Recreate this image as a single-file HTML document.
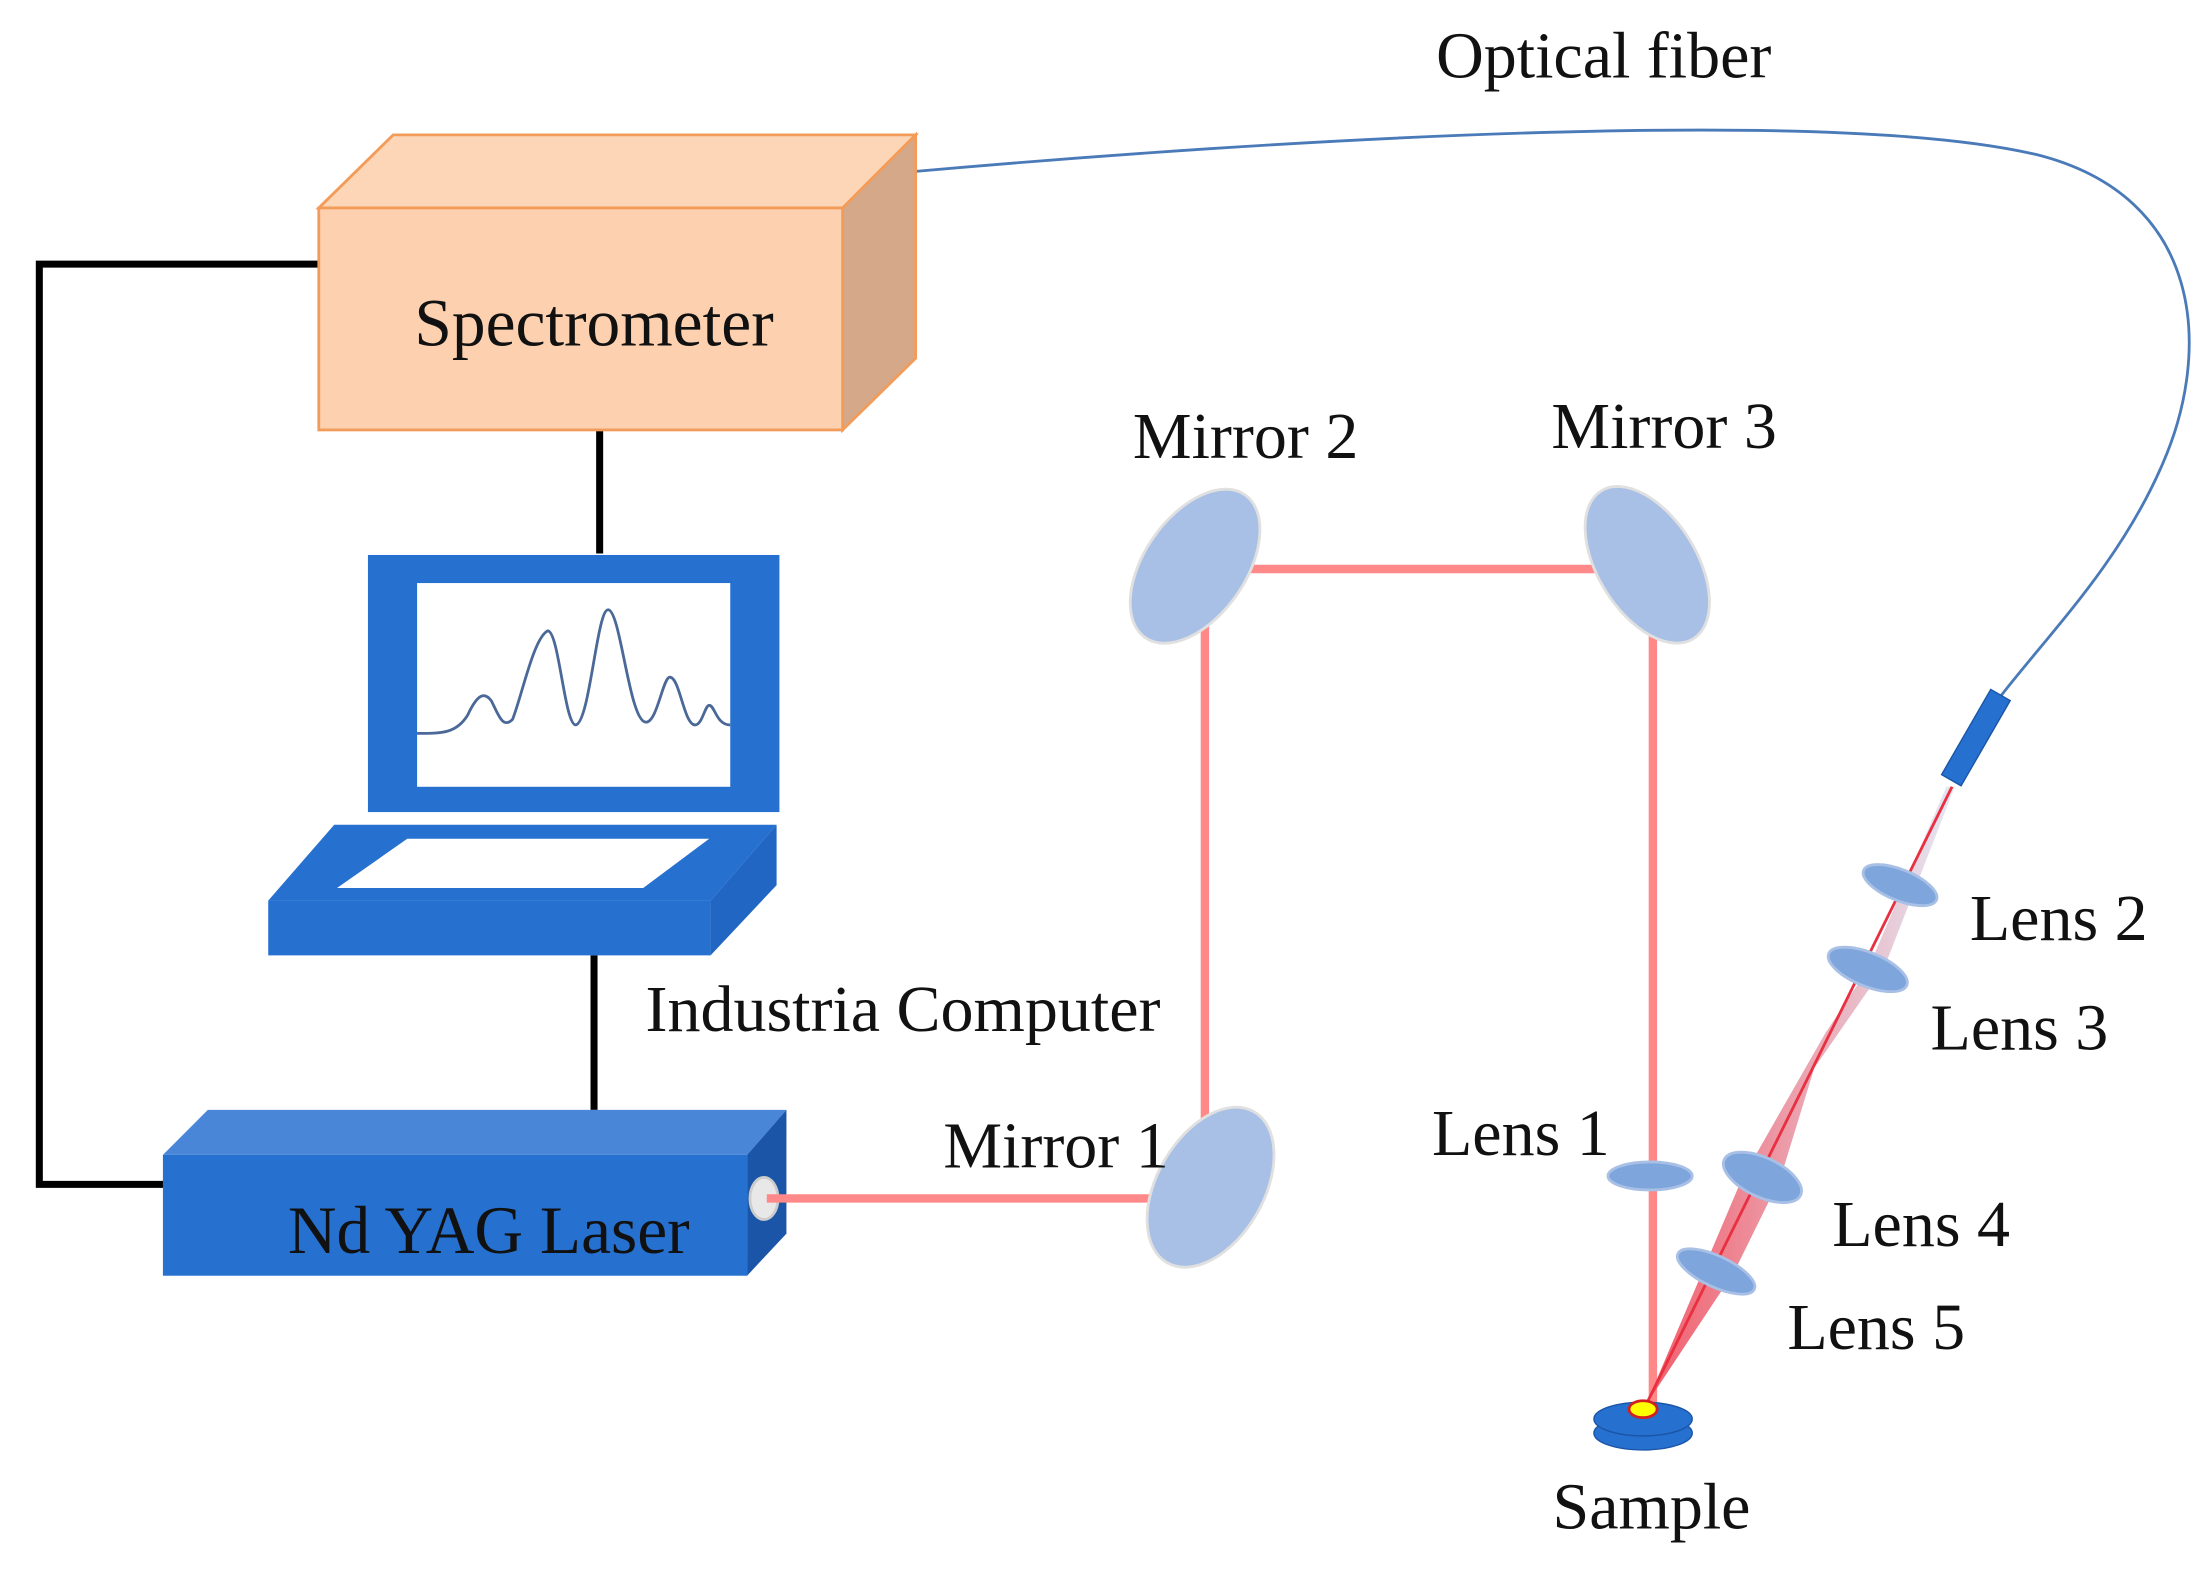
<!DOCTYPE html>
<html><head><meta charset="utf-8"><style>
html,body{margin:0;padding:0;background:#fff;}
svg{display:block;}
text{font-family:"Liberation Serif",serif;fill:#111;}
</style></head><body>
<svg width="2202" height="1582" viewBox="0 0 1568 1126" preserveAspectRatio="none" xmlns="http://www.w3.org/2000/svg">
<defs>
<linearGradient id="cone" x1="0" y1="0" x2="1" y2="0">
<stop offset="0" stop-color="#f04050"/><stop offset="1" stop-color="#dfe4f2"/>
</linearGradient>
</defs>
<rect width="1568" height="1126" fill="#fff"/>
<polyline points="227,188 28,188 28,843 118,843" fill="none" stroke="#000" stroke-width="5"/>
<line x1="427" y1="306" x2="427" y2="394" stroke="#000" stroke-width="5"/>
<line x1="423" y1="680" x2="423" y2="790" stroke="#000" stroke-width="5"/>
<path d="M652,122 C900,100 1300,75 1450,110 C1570,140 1575,250 1540,330 C1510,400 1460,450 1425,495" fill="none" stroke="#4a7ab8" stroke-width="2"/>
<polygon points="227,148 280,96 652,96 600,148" fill="#fdd6b8" stroke="#f39c5a" stroke-width="2"/>
<polygon points="600,148 652,96 652,255 600,306" fill="#d4a888" stroke="#f39c5a" stroke-width="2"/>
<rect x="227" y="148" width="373" height="158" fill="#fdd0b0" stroke="#f39c5a" stroke-width="2"/>
<text x="423" y="246" font-size="48" text-anchor="middle">Spectrometer</text>
<rect x="262" y="395" width="293" height="183" fill="#2670cf"/>
<rect x="297" y="415" width="223" height="145" fill="#fff"/>
<path d="M297,522 C315,522 325,522 333,509 C340,494 345,492 350,499 C355,509 358,519 365,512 C372,494 380,454 390,449 C398,449 402,516 410,516 C420,514 425,434 433,434 C442,434 448,514 460,514 C468,514 472,482 477,482 C484,482 487,516 495,516 C500,516 502,502 505,502 C509,502 510,516 520,516" fill="none" stroke="#4a6898" stroke-width="2"/>
<polygon points="191,641 238,587 553,587 506,641" fill="#2670cf"/>
<polygon points="240,632 290,597 505,597 458,632" fill="#fff"/>
<rect x="191" y="641" width="315" height="39" fill="#2670cf"/>
<polygon points="506,641 553,587 553,630 506,680" fill="#2266c4"/>
<polygon points="116,822 148,790 560,790 532,822" fill="#4a86d8"/>
<polygon points="532,822 560,790 560,878 532,908" fill="#1a55a8"/>
<rect x="116" y="822" width="416" height="86" fill="#2670cf"/>
<ellipse cx="544" cy="853" rx="10" ry="15" fill="#e8e8e8" stroke="#ccc" stroke-width="2"/>
<text x="348" y="892" font-size="48" text-anchor="middle">Nd YAG Laser</text>
<g stroke="#f88" stroke-width="6" fill="none">
<line x1="546" y1="853" x2="835" y2="853"/>
<line x1="858" y1="830" x2="858" y2="428"/>
<line x1="878" y1="405" x2="1145" y2="405"/>
<line x1="1177" y1="450" x2="1177" y2="1000"/>
</g>
<polygon points="1392,560 1386,560 1330,690 1300,735 1240,840 1172,1000 1235,905 1268,838 1292,760 1342,688" fill="url(#cone)" opacity="0.85"/>
<line x1="1390" y1="560" x2="1172" y2="1000" stroke="#e83040" stroke-width="2"/>
<g fill="#a9c0e6" stroke="#e0e0e0" stroke-width="2">
<ellipse cx="862" cy="845" rx="38" ry="62" transform="rotate(30 862 845)"/>
<ellipse cx="851" cy="403" rx="36" ry="62" transform="rotate(35 851 403)"/>
<ellipse cx="1173" cy="402" rx="35" ry="62" transform="rotate(-32 1173 402)"/>
</g>
<g fill="#7fa6dc" stroke="#a9c0e6" stroke-width="2">
<ellipse cx="1175" cy="837" rx="30" ry="10"/>
<ellipse cx="1353" cy="630" rx="28" ry="11" transform="rotate(22 1353 630)"/>
<ellipse cx="1330" cy="690" rx="30" ry="12" transform="rotate(22 1330 690)"/>
<ellipse cx="1255" cy="838" rx="30" ry="14" transform="rotate(25 1255 838)"/>
<ellipse cx="1222" cy="905" rx="30" ry="11" transform="rotate(25 1222 905)"/>
</g>
<rect x="1372" y="517" width="70" height="16" fill="#2670cf" stroke="#1a55a8" transform="rotate(-60 1407 525)"/>
<ellipse cx="1170" cy="1020" rx="35" ry="12" fill="#2670cf" stroke="#1a55a8"/>
<ellipse cx="1170" cy="1010" rx="35" ry="12" fill="#2670cf" stroke="#1a55a8"/>
<ellipse cx="1170" cy="1003" rx="10" ry="6" fill="#ff0" stroke="#d02020" stroke-width="2"/>
<g font-size="47">
<text x="1142" y="55" text-anchor="middle">Optical fiber</text>
<text x="887" y="326" text-anchor="middle">Mirror 2</text>
<text x="1185" y="319" text-anchor="middle">Mirror 3</text>
<text x="752" y="831" text-anchor="middle">Mirror 1</text>
<text x="643" y="734" text-anchor="middle">Industria Computer</text>
<text x="1083" y="822" text-anchor="middle">Lens 1</text>
<text x="1466" y="669" text-anchor="middle">Lens 2</text>
<text x="1438" y="747" text-anchor="middle">Lens 3</text>
<text x="1368" y="887" text-anchor="middle">Lens 4</text>
<text x="1336" y="960" text-anchor="middle">Lens 5</text>
<text x="1176" y="1088" text-anchor="middle">Sample</text>
</g>
</svg>
</body></html>
